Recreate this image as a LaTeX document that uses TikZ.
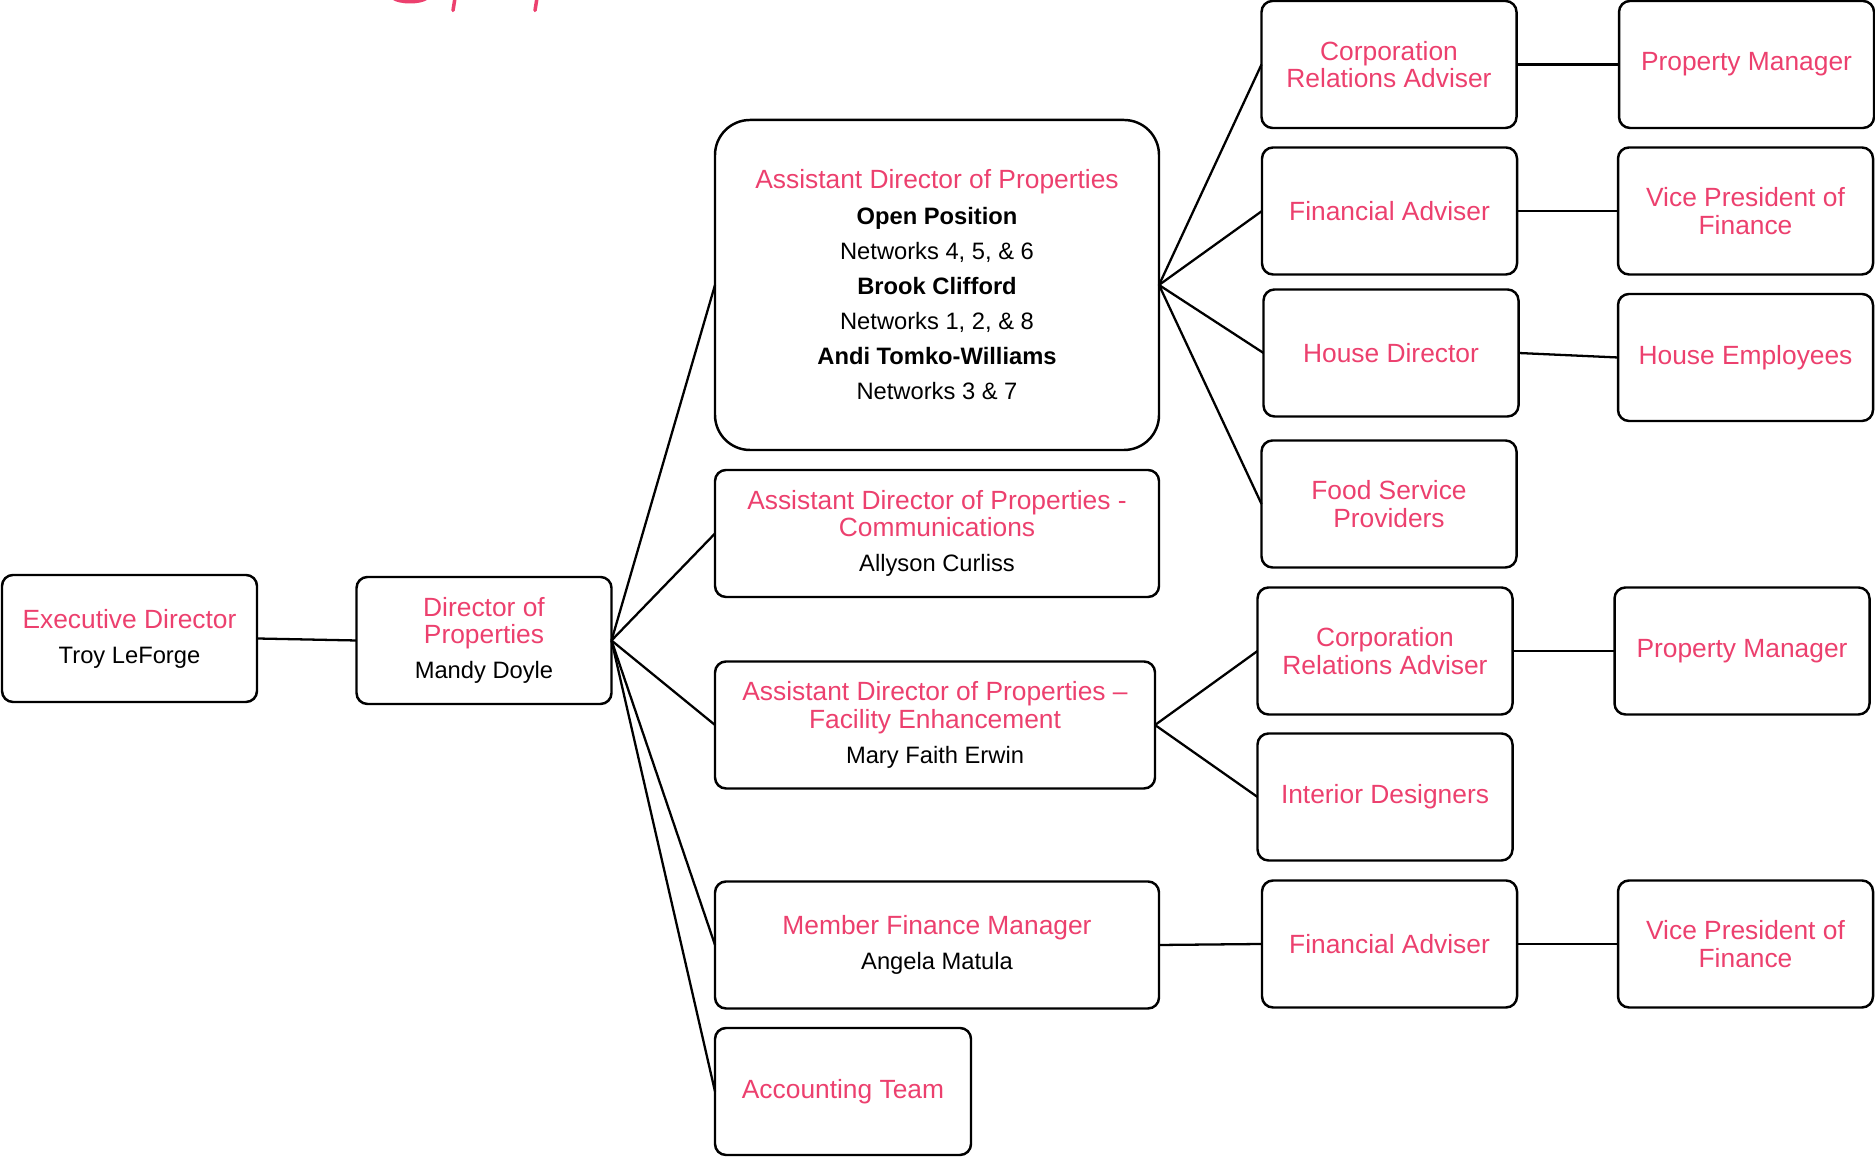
\documentclass[tikz,border=0pt]{standalone}
\usepackage{fontspec}
\setmainfont{Liberation Sans}
\usepackage{tikz}
\definecolor{rosa}{RGB}{236,64,110}
\newcommand{\who}[1]{{\color{black}\fontsize{13.5}{16}\selectfont #1}}
\newcommand{\whob}[1]{{\color{black}\fontsize{13.5}{16}\selectfont\bfseries #1}}

\begin{document}
\begin{tikzpicture}[every node/.style={draw, line width=1.4pt, rounded corners=0.22cm, inner sep=0pt, outer sep=0pt, align=center, text=rosa, font=\fontsize{15}{15.5}\selectfont, minimum width=5.1cm, minimum height=2.54cm}, link/.style={line width=1.3pt}]
\useasboundingbox (0,0) rectangle (37.5,23.16);

\draw[rosa, line width=2pt, line cap=round] (7.86,23.2) .. controls (8.0,23.1) and (8.4,23.1) .. (8.54,23.2);
\draw[rosa, line width=2pt, line cap=round] (9.10,23.2) -- (9.06,22.95);
\draw[rosa, line width=2pt, line cap=round] (10.74,23.2) -- (10.70,22.95);

\node (exec) at (2.59,10.39) {Executive Director\\[4.5pt]\who{Troy LeForge}};
\node (dir) at (9.68,10.35) {Director of\\Properties\\[4.5pt]\who{Mandy Doyle}};

\node[minimum width=8.88cm, minimum height=6.6cm, rounded corners=0.7cm] (adp) at (18.74,17.46) {Assistant Director of Properties\\[4.5pt]\whob{Open Position}\\[4.5pt]\who{Networks 4, 5, \& 6}\\[4.5pt]\whob{Brook Clifford}\\[4.5pt]\who{Networks 1, 2, \& 8}\\[4.5pt]\whob{Andi Tomko-Williams}\\[4.5pt]\who{Networks 3 \& 7}};
\node[minimum width=8.88cm] (comm) at (18.74,12.49) {Assistant Director of Properties -\\Communications\\[4.5pt]\who{Allyson Curliss}};
\node[minimum width=8.80cm] (fac) at (18.70,8.66) {Assistant Director of Properties --\\Facility Enhancement\\[4.5pt]\who{Mary Faith Erwin}};
\node[minimum width=8.88cm] (mfm) at (18.74,4.26) {Member Finance Manager\\[4.5pt]\who{Angela Matula}};
\node[minimum width=5.12cm] (acct) at (16.86,1.33) {Accounting Team};

\node (cra) at (27.78,21.87) {Corporation\\Relations Adviser};
\node (fa) at (27.79,18.94) {Financial Adviser};
\node (hd) at (27.82,16.10) {House Director};
\node (fsp) at (27.78,13.08) {Food Service\\Providers};
\node (crb) at (27.70,10.14) {Corporation\\Relations Adviser};
\node (intd) at (27.70,7.22) {Interior Designers};
\node (fb) at (27.79,4.28) {Financial Adviser};

\node (pma) at (34.93,21.87) {Property Manager};
\node (vpa) at (34.91,18.94) {Vice President of\\Finance};
\node (he) at (34.91,16.01) {House Employees};
\node (pmb) at (34.84,10.14) {Property Manager};
\node (vpb) at (34.91,4.28) {Vice President of\\Finance};

\draw[link] (exec.east) -- (dir.west);
\draw[link] (dir.east) -- (adp.west);
\draw[link] (dir.east) -- (comm.west);
\draw[link] (dir.east) -- (fac.west);
\draw[link] (dir.east) -- (mfm.west);
\draw[link] (dir.east) -- (acct.west);

\draw[link] (adp.east) -- (cra.west);
\draw[link] (adp.east) -- (fa.west);
\draw[link] (adp.east) -- (hd.west);
\draw[link] (adp.east) -- (fsp.west);
\draw[link] (fac.east) -- (crb.west);
\draw[link] (fac.east) -- (intd.west);
\draw[link] (mfm.east) -- (fb.west);

\draw[link] (cra.east) -- (pma.west);
\draw[link] (fa.east) -- (vpa.west);
\draw[link] (hd.east) -- (he.west);
\draw[link] (crb.east) -- (pmb.west);
\draw[link] (fb.east) -- (vpb.west);
\end{tikzpicture}
\end{document}
